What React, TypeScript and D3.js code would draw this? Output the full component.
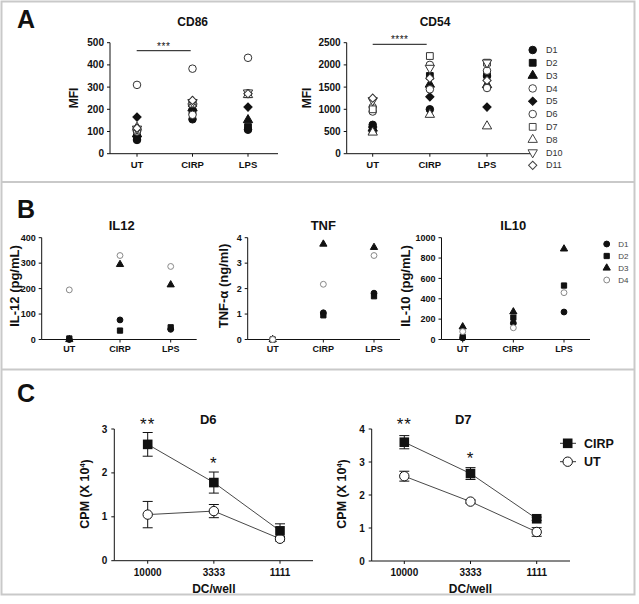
import React from "react";
import * as d3 from "d3";

// ---------- Data ----------
const categoriesA = ["UT", "CIRP", "LPS"];
const donorsA = ["D1", "D2", "D3", "D4", "D5", "D6", "D7", "D8", "D10", "D11"];
const cd86UT = [62, 75, 88, 310, 165, 100, 108, 118, 112, 115];
const cd86CIRP = [155, 190, 205, 383, 215, 175, 225, 235, 232, 240];
const cd86LPS = [108, 120, 152, 432, 210, 272, 268, 265, 275, 270];
const cd54UT = [650, 520, 570, 1050, 600, 950, 1000, 480, 1200, 1250];
const cd54CIRP = [1000, 1750, 1560, 2000, 1280, 1450, 2200, 880, 1930, 1700];
const cd54LPS = [1750, 1800, 1550, 1870, 1050, 1480, 2050, 620, 2050, 1650];
const cd86Ticks = [0, 100, 200, 300, 400, 500];
const cd54Ticks = [0, 500, 1000, 1500, 2000, 2500];

const categoriesB = ["UT", "CIRP", "LPS"];
const donorsB = ["D1", "D2", "D3", "D4"];
const il12UT = [0, 4, 0, 195];
const il12CIRP = [77, 35, 295, 330];
const il12LPS = [40, 48, 215, 287];
const tnfUT = [0, 0, 0, 0];
const tnfCIRP = [1.05, 0.95, 3.75, 2.17];
const tnfLPS = [1.82, 1.7, 3.62, 3.3];
const il10UT = [15, 25, 125, 78];
const il10CIRP = [160, 215, 272, 115];
const il10LPS = [270, 530, 890, 460];
const il12Ticks = [0, 100, 200, 300, 400];
const tnfTicks = [0, 1, 2, 3, 4];
const il10Ticks = [0, 200, 400, 600, 800, 1000];

const dcPerWell = ["10000", "3333", "1111"];
const d6CIRP = [2.65, 1.78, 0.68];
const d6CIRPErr = [0.27, 0.24, 0.16];
const d6UT = [1.05, 1.13, 0.5];
const d6UTErr = [0.3, 0.15, 0.05];
const d7CIRP = [3.6, 2.65, 1.28];
const d7CIRPErr = [0.2, 0.18, 0.05];
const d7UT = [2.57, 1.8, 0.88];
const d7UTErr = [0.15, 0.05, 0.13];
const d6Ticks = [0, 1, 2, 3];
const d7Ticks = [0, 1, 2, 3, 4];
const d6Stars = ["**", "*", ""];
const d7Stars = ["**", "*", ""];

// ---------- Styling ----------
const FONT = "'Liberation Sans', Arial, Helvetica, sans-serif";
const INK = "#111";

type Shape = "circle" | "square" | "triangle" | "diamond" | "triangleDown";
const shapesA: Shape[] = ["circle", "square", "triangle", "circle", "diamond", "circle", "square", "triangle", "triangleDown", "diamond"];
const filledA = [true, true, true, false, true, false, false, false, false, false];
const shapesB: Shape[] = ["circle", "square", "triangle", "circle"];
const filledB = [true, true, true, false];

function symbolPath(shape: Shape, scale: number) {
  const sizes: Record<Shape, number> = {
    circle: 45,
    square: 46,
    triangle: 38,
    diamond: 34,
    triangleDown: 38,
  };
  const type =
    shape === "circle" ? d3.symbolCircle :
    shape === "square" || shape === "diamond" ? d3.symbolSquare :
    d3.symbolTriangle;
  return d3.symbol().type(type).size(sizes[shape] * scale)() as string;
}

function Marker({ shape, filled, x, y, scale = 1, stroke = "#222", sw = 1 }: any) {
  const rot = shape === "diamond" ? 45 : shape === "triangleDown" ? 180 : 0;
  return (
    <path
      d={symbolPath(shape, scale)}
      transform={`translate(${x},${y}) rotate(${rot})`}
      fill={filled ? INK : "#fff"}
      stroke={filled ? INK : stroke}
      strokeWidth={sw}
    />
  );
}

function YAxis({ y, x, ticks, fontSize, labelGap = 6 }: any) {
  const [r0, r1] = y.range();
  return (
    <g>
      <line x1={x} x2={x} y1={r0} y2={r1} stroke={INK} strokeWidth={1} />
      {ticks.map((t: number) => (
        <g key={t}>
          <line x1={x - 3} x2={x} y1={y(t)} y2={y(t)} stroke={INK} strokeWidth={1} />
          <text x={x - labelGap} y={y(t)} dy="0.35em" textAnchor="end" fontSize={fontSize} fontWeight="bold" fontFamily={FONT} fill={INK}>
            {t}
          </text>
        </g>
      ))}
    </g>
  );
}

function XAxis({ xs, cats, x0, x1, y0, labelY, fontSize }: any) {
  return (
    <g>
      <line x1={x0} x2={x1} y1={y0} y2={y0} stroke={INK} strokeWidth={1} />
      {cats.map((c: string) => (
        <g key={c}>
          <line x1={xs(c)} x2={xs(c)} y1={y0} y2={y0 + 3} stroke={INK} strokeWidth={1} />
          <text x={xs(c)} y={labelY} dy="0.35em" textAnchor="middle" fontSize={fontSize} fontWeight="bold" fontFamily={FONT} fill={INK}>
            {c}
          </text>
        </g>
      ))}
    </g>
  );
}

function RotLabel({ x, y, fontSize, children }: any) {
  return (
    <text transform={`translate(${x},${y}) rotate(-90)`} textAnchor="middle" dy="0.35em" fontSize={fontSize} fontWeight="bold" fontFamily={FONT} fill={INK}>
      {children}
    </text>
  );
}

function Title({ x, y, fontSize, children }: any) {
  return (
    <text x={x} y={y} dy="0.35em" textAnchor="middle" fontSize={fontSize} fontWeight="bold" fontFamily={FONT} fill={INK}>
      {children}
    </text>
  );
}

function ScatterPanel({ L, title, yLabel, cats, seriesByCat, yMax, ticks, shapes, filled, markerScale, openStroke, tickFont, catFont, yLabelFont, titleFont, titleY, titleX, yLabelX }: any) {
  const y = d3.scaleLinear().domain([0, yMax]).range([L.y0, L.yTop]);
  const xs = d3.scalePoint().domain(cats).range(L.catRange);
  const nDonors = seriesByCat[0].length;
  return (
    <g>
      <Title x={titleX} y={titleY} fontSize={titleFont}>{title}</Title>
      <YAxis y={y} x={L.axisX} ticks={ticks} fontSize={tickFont} />
      <XAxis xs={xs} cats={cats} x0={L.axisX} x1={L.xEnd} y0={L.y0} labelY={L.catLabelY} fontSize={catFont} />
      <RotLabel x={yLabelX} y={L.yLabelY} fontSize={yLabelFont}>{yLabel}</RotLabel>
      {cats.map((c: string, ci: number) =>
        d3.range(nDonors).map((di) => (
          <Marker key={c + di} shape={shapes[di]} filled={filled[di]} x={xs(c)} y={y(seriesByCat[ci][di])} scale={markerScale} stroke={openStroke} />
        ))
      )}
    </g>
  );
}

function SigBar({ x1, x2, y, label, fontSize }: any) {
  return (
    <g>
      <line x1={x1} x2={x2} y1={y} y2={y} stroke={INK} strokeWidth={1} />
      <text x={(x1 + x2) / 2} y={y - 1} textAnchor="middle" fontSize={fontSize} fontFamily={FONT} fill={INK} letterSpacing={0.5}>
        {label}
      </text>
    </g>
  );
}

function LinePanel({ L, title, cats, cirp, cirpErr, ut, utErr, yMax, ticks, stars }: any) {
  const y = d3.scaleLinear().domain([0, yMax]).range([L.y0, L.yTop]);
  const xs = d3.scalePoint().domain(cats).range(L.catRange);
  const line = d3.line<number>().x((_, i) => xs(cats[i]) as number).y((v) => y(v));
  const errBars = (vals: number[], errs: number[]) =>
    vals.map((v, i) => {
      const cx = xs(cats[i]) as number;
      return (
        <g key={i}>
          <line x1={cx} x2={cx} y1={y(v - errs[i])} y2={y(v + errs[i])} stroke={INK} strokeWidth={1} />
          <line x1={cx - 5} x2={cx + 5} y1={y(v + errs[i])} y2={y(v + errs[i])} stroke={INK} strokeWidth={1} />
          <line x1={cx - 5} x2={cx + 5} y1={y(v - errs[i])} y2={y(v - errs[i])} stroke={INK} strokeWidth={1} />
        </g>
      );
    });
  return (
    <g>
      <Title x={L.titleX} y={L.titleY} fontSize={13}>{title}</Title>
      <YAxis y={y} x={L.axisX} ticks={ticks} fontSize={10} labelGap={7} />
      <XAxis xs={xs} cats={cats} x0={L.axisX} x1={L.xEnd} y0={L.y0} labelY={L.catLabelY} fontSize={10} />
      <text x={(xs(cats[1]) as number)} y={L.xTitleY} dy="0.35em" textAnchor="middle" fontSize={12} fontWeight="bold" fontFamily={FONT} fill={INK}>DC/well</text>
      <text transform={`translate(${L.yLabelX},${L.yLabelY}) rotate(-90)`} textAnchor="middle" dy="0.35em" fontSize={12.5} fontWeight="bold" fontFamily={FONT} fill={INK}>
        CPM (X 10<tspan fontSize={7.5} dy="-0.6em">4</tspan><tspan dy="0.4em">)</tspan>
      </text>
      {errBars(ut, utErr)}
      {errBars(cirp, cirpErr)}
      <path d={line(ut) as string} fill="none" stroke="#333" strokeWidth={0.9} />
      <path d={line(cirp) as string} fill="none" stroke="#333" strokeWidth={0.9} />
      {ut.map((v: number, i: number) => (
        <circle key={"u" + i} cx={xs(cats[i])} cy={y(v)} r={4.7} fill="#fff" stroke={INK} strokeWidth={1} />
      ))}
      {cirp.map((v: number, i: number) => {
        const cx = xs(cats[i]) as number;
        return <rect key={"c" + i} x={cx - 4.8} y={y(v) - 4.8} width={9.6} height={9.6} fill={INK} />;
      })}
      {stars.map((s: string, i: number) =>
        s ? (
          <text key={"s" + i} x={xs(cats[i])} y={L.starY[i]} textAnchor="middle" fontSize={17} fontFamily={FONT} fill={INK} letterSpacing={1}>
            {s}
          </text>
        ) : null
      )}
    </g>
  );
}

export default function App() {
  const LA1 = { axisX: 110, xEnd: 278, y0: 153.7, yTop: 42.7, catRange: [137, 248], catLabelY: 164.5, yLabelY: 98 };
  const LA2 = { axisX: 346.7, xEnd: 533, y0: 153.7, yTop: 42.7, catRange: [372.7, 487], catLabelY: 164.5, yLabelY: 98 };
  const LB1 = { axisX: 41.7, xEnd: 196.7, y0: 339.5, yTop: 237.7, catRange: [69.3, 170.7], catLabelY: 348.5, yLabelY: 286 };
  const LB2 = { axisX: 247.7, xEnd: 400, y0: 339.5, yTop: 237.7, catRange: [272.7, 374], catLabelY: 348.5, yLabelY: 286 };
  const LB3 = { axisX: 441.5, xEnd: 590, y0: 339.5, yTop: 237.7, catRange: [462.7, 564], catLabelY: 348.5, yLabelY: 286 };
  const LC1 = { axisX: 114.3, xEnd: 313, y0: 560.7, yTop: 429, catRange: [147.7, 280], catLabelY: 572.7, xTitleY: 588.3, titleX: 208.3, titleY: 419.3, yLabelX: 85, yLabelY: 494, starY: [430, 469] };
  const LC2 = { axisX: 371.7, xEnd: 570, y0: 561, yTop: 429, catRange: [404.3, 536.7], catLabelY: 572.7, xTitleY: 588.3, titleX: 463.3, titleY: 419.3, yLabelX: 341.7, yLabelY: 494, starY: [430, 464] };

  const legendAY = d3.scaleLinear().domain([0, donorsA.length - 1]).range([50, 165.3]);
  const legendBY = d3.scaleLinear().domain([0, donorsB.length - 1]).range([244, 280]);

  return (
    <svg width={639} height={604} viewBox="0 0 639 604" style={{ position: "absolute", left: 0, top: 0, background: "#fff" }}>
      <rect x={0} y={0} width={639} height={604} fill="#fff" />
      {/* frame and separators */}
      <rect x={1.5} y={1.5} width={633} height={593} fill="none" stroke="#c9c9c9" strokeWidth={2} />
      <line x1={1.5} x2={634.5} y1={182} y2={182} stroke="#c9c9c9" strokeWidth={2} />
      <line x1={1.5} x2={634.5} y1={369.5} y2={369.5} stroke="#c9c9c9" strokeWidth={2} />

      {/* panel letters */}
      <text x={17} y={28} fontSize={25} fontWeight="bold" fontFamily={FONT} fill={INK}>A</text>
      <text x={17} y={218} fontSize={25} fontWeight="bold" fontFamily={FONT} fill={INK}>B</text>
      <text x={17} y={402} fontSize={25} fontWeight="bold" fontFamily={FONT} fill={INK}>C</text>

      {/* Panel A */}
      <ScatterPanel L={LA1} title="CD86" titleX={192.7} titleY={21.7} yLabel="MFI" yLabelX={74} cats={categoriesA}
        seriesByCat={[cd86UT, cd86CIRP, cd86LPS]} yMax={500} ticks={cd86Ticks} shapes={shapesA} filled={filledA}
        markerScale={1} openStroke="#333" tickFont={10} catFont={9.5} yLabelFont={12} titleFont={12} />
      <SigBar x1={136.7} x2={190.7} y={50.7} label="***" fontSize={10} />
      <ScatterPanel L={LA2} title="CD54" titleX={435} titleY={21.7} yLabel="MFI" yLabelX={307} cats={categoriesA}
        seriesByCat={[cd54UT, cd54CIRP, cd54LPS]} yMax={2500} ticks={cd54Ticks} shapes={shapesA} filled={filledA}
        markerScale={1} openStroke="#333" tickFont={10} catFont={9.5} yLabelFont={12} titleFont={12} />
      <SigBar x1={372.7} x2={426.7} y={44.3} label="****" fontSize={10} />
      {donorsA.map((d, i) => (
        <g key={d}>
          <Marker shape={shapesA[i]} filled={filledA[i]} x={532.7} y={legendAY(i)} stroke="#444" />
          <text x={546} y={legendAY(i)} dy="0.35em" fontSize={9} fontFamily={FONT} fill="#333">{d}</text>
        </g>
      ))}

      {/* Panel B */}
      <ScatterPanel L={LB1} title="IL12" titleX={121.7} titleY={225} yLabel="IL-12 (pg/mL)" yLabelX={14} cats={categoriesB}
        seriesByCat={[il12UT, il12CIRP, il12LPS]} yMax={400} ticks={il12Ticks} shapes={shapesB} filled={filledB}
        markerScale={0.6} openStroke="#888" tickFont={9} catFont={9} yLabelFont={13} titleFont={13} />
      <ScatterPanel L={LB2} title="TNF" titleX={323.3} titleY={225} yLabel="TNF-α (ng/ml)" yLabelX={223.3} cats={categoriesB}
        seriesByCat={[tnfUT, tnfCIRP, tnfLPS]} yMax={4} ticks={tnfTicks} shapes={shapesB} filled={filledB}
        markerScale={0.6} openStroke="#888" tickFont={9} catFont={9} yLabelFont={13} titleFont={13} />
      <ScatterPanel L={LB3} title="IL10" titleX={513.3} titleY={225} yLabel="IL-10 (pg/mL)" yLabelX={405} cats={categoriesB}
        seriesByCat={[il10UT, il10CIRP, il10LPS]} yMax={1000} ticks={il10Ticks} shapes={shapesB} filled={filledB}
        markerScale={0.6} openStroke="#888" tickFont={9} catFont={9} yLabelFont={13} titleFont={13} />
      {donorsB.map((d, i) => (
        <g key={d}>
          <Marker shape={shapesB[i]} filled={filledB[i]} x={606.7} y={legendBY(i)} scale={0.6} stroke="#888" />
          <text x={618.3} y={legendBY(i)} dy="0.35em" fontSize={8} fontFamily={FONT} fill="#444">{d}</text>
        </g>
      ))}

      {/* Panel C */}
      <LinePanel L={LC1} title="D6" cats={dcPerWell} cirp={d6CIRP} cirpErr={d6CIRPErr} ut={d6UT} utErr={d6UTErr} yMax={3} ticks={d6Ticks} stars={d6Stars} />
      <LinePanel L={LC2} title="D7" cats={dcPerWell} cirp={d7CIRP} cirpErr={d7CIRPErr} ut={d7UT} utErr={d7UTErr} yMax={4} ticks={d7Ticks} stars={d7Stars} />
      {/* C legend */}
      <g>
        <line x1={560} x2={576} y1={443.3} y2={443.3} stroke="#333" strokeWidth={1} />
        <rect x={562.9} y={438.5} width={9.6} height={9.6} fill={INK} />
        <text x={584} y={443.3} dy="0.35em" fontSize={12.5} fontWeight="bold" fontFamily={FONT} fill={INK}>CIRP</text>
        <line x1={560} x2={576} y1={461.7} y2={461.7} stroke="#333" strokeWidth={1} />
        <circle cx={567.7} cy={461.7} r={4.7} fill="#fff" stroke={INK} strokeWidth={1} />
        <text x={584} y={461.7} dy="0.35em" fontSize={12.5} fontWeight="bold" fontFamily={FONT} fill={INK}>UT</text>
      </g>
    </svg>
  );
}
